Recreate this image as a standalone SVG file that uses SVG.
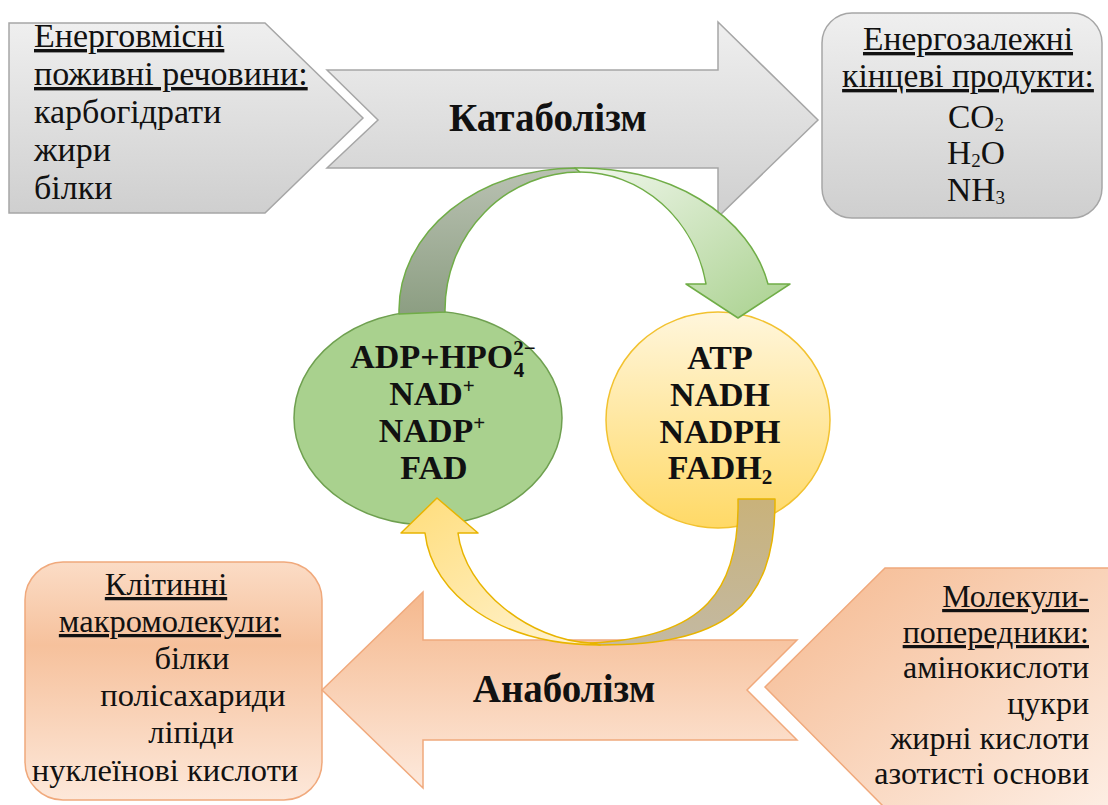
<svg xmlns="http://www.w3.org/2000/svg" width="1108" height="805" viewBox="0 0 1108 805">
<defs>
<style>
.t{font-family:"Liberation Serif","Times New Roman",serif;font-size:32px;fill:#111}
#nutrients .t{font-size:34px}
#end-products .t{font-size:33.5px}
#macromolecules .t{font-size:32.5px}
#precursors .t{font-size:32px}
.u{text-decoration:underline}
.b{font-weight:bold;font-size:34px}
.big{font-size:39px;font-weight:bold}
#catabolism .big,#anabolism .big{font-size:39px}
.grey{fill:url(#gGrey);stroke:#a6a6a6;stroke-width:1.5}
.peach{stroke:#f0a97c;stroke-width:1.5}
#end-products .sub{font-size:19px}
</style>
<linearGradient id="gGrey" x1="0" y1="0" x2="0" y2="1"><stop offset="0" stop-color="#efefef"/><stop offset="1" stop-color="#cfcfcf"/></linearGradient>
<linearGradient id="gPeach" x1="0" y1="0" x2="0" y2="1"><stop offset="0" stop-color="#f5b88d"/><stop offset="1" stop-color="#fde9dc"/></linearGradient>
<linearGradient id="gPeachBox" x1="0" y1="0" x2="0" y2="1"><stop offset="0" stop-color="#fbdcc6"/><stop offset="0.35" stop-color="#f6c19c"/><stop offset="1" stop-color="#fde8da"/></linearGradient>
<linearGradient id="gPeachR" x1="0" y1="0" x2="1" y2="1"><stop offset="0" stop-color="#f5b88e"/><stop offset="1" stop-color="#fdeee4"/></linearGradient>
<linearGradient id="gYellow" x1="0" y1="0" x2="0" y2="1"><stop offset="0" stop-color="#fff6dc"/><stop offset="1" stop-color="#ffd966"/></linearGradient>
<linearGradient id="gArcDark" x1="0" y1="0" x2="0" y2="1"><stop offset="0" stop-color="#b9c1b2"/><stop offset="1" stop-color="#8c9e82"/></linearGradient>
<linearGradient id="gArcLight" x1="0" y1="0" x2="1" y2="1"><stop offset="0" stop-color="#f1f7ed"/><stop offset="1" stop-color="#a9d18e"/></linearGradient>
<linearGradient id="gTan" x1="0" y1="0" x2="0" y2="1"><stop offset="0" stop-color="#c9b27a"/><stop offset="1" stop-color="#c3b9a2"/></linearGradient>
<linearGradient id="gYArc" x1="0" y1="0" x2="1" y2="1"><stop offset="0" stop-color="#ffdd7a"/><stop offset="1" stop-color="#fff4d6"/></linearGradient>
</defs>
<rect width="1108" height="805" fill="#ffffff"/>

<g id="nutrients">
<polygon class="grey" points="9,23 265,23 363,118 265,213 9,213"/>
<text class="t u" x="34" y="47">Енерговмісні</text>
<text class="t u" x="34" y="85">поживні речовини:</text>
<text class="t" x="34" y="123">карбогідрати</text>
<text class="t" x="34" y="161">жири</text>
<text class="t" x="34" y="199">білки</text>
</g>

<g id="catabolism">
<polygon class="grey" points="327,70 718,70 718,22 818,120 718,217 718,168 327,168 378,120"/>
<text class="t big" x="548" y="131" text-anchor="middle">Катаболізм</text>
</g>

<g id="end-products">
<rect class="grey" x="822" y="13" width="280" height="205" rx="30"/>
<text class="t u" x="968" y="50" text-anchor="middle">Енергозалежні</text>
<text class="t u" x="968" y="87" text-anchor="middle">кінцеві продукти:</text>
<text class="t" x="976" y="128" text-anchor="middle">CO<tspan class="sub" dy="3">2</tspan></text>
<text class="t" x="976" y="164" text-anchor="middle">H<tspan class="sub" dy="3">2</tspan><tspan dy="-3">O</tspan></text>
<text class="t" x="976" y="201" text-anchor="middle">NH<tspan class="sub" dy="3">3</tspan></text>
</g>

<g id="macromolecules">
<rect class="peach" fill="url(#gPeachBox)" x="25" y="562" width="297" height="238" rx="38"/>
<text class="t u" x="166" y="595" text-anchor="middle">Клітинні</text>
<text class="t u" x="170" y="632" text-anchor="middle">макромолекули:</text>
<text class="t" x="192" y="669" text-anchor="middle">білки</text>
<text class="t" x="193" y="706" text-anchor="middle">полісахариди</text>
<text class="t" x="191" y="743" text-anchor="middle">ліпіди</text>
<text class="t" x="165" y="781" text-anchor="middle">нуклеїнові кислоти</text>
</g>

<g id="anabolism">
<polygon class="peach" fill="url(#gPeach)" points="322,690 423,592 423,640 797,640 747,690 797,740 423,740 423,788"/>
<text class="t big" x="564" y="702" text-anchor="middle">Анаболізм</text>
</g>

<g id="precursors">
<polygon class="peach" fill="url(#gPeachR)" points="765,687 885,568 1112,568 1112,808 885,808"/>
<text class="t u" x="1089" y="607" text-anchor="end">Молекули-</text>
<text class="t u" x="1089" y="643" text-anchor="end">попередники:</text>
<text class="t" x="1089" y="678" text-anchor="end">амінокислоти</text>
<text class="t" x="1089" y="714" text-anchor="end">цукри</text>
<text class="t" x="1089" y="749" text-anchor="end">жирні кислоти</text>
<text class="t" x="1089" y="784" text-anchor="end">азотисті основи</text>
</g>

<g id="oxidized">
<ellipse cx="428" cy="418" rx="134" ry="107" fill="#a9d18e" stroke="#6fa050" stroke-width="1.5"/>
<text class="t b" x="443" y="368" text-anchor="middle">ADP+HPO<tspan font-size="21" dy="-13">2−</tspan><tspan font-size="21" dx="-22" dy="22">4</tspan></text>
<text class="t b" x="432" y="405" text-anchor="middle">NAD<tspan font-size="21" dy="-12">+</tspan></text>
<text class="t b" x="432" y="442" text-anchor="middle">NADP<tspan font-size="21" dy="-12">+</tspan></text>
<text class="t b" x="434" y="479" text-anchor="middle">FAD</text>
</g>

<g id="reduced">
<ellipse cx="718" cy="420" rx="112" ry="108" fill="url(#gYellow)" stroke="#f2c230" stroke-width="1.5"/>
<text class="t b" x="720" y="369" text-anchor="middle">ATP</text>
<text class="t b" x="720" y="406" text-anchor="middle">NADH</text>
<text class="t b" x="720" y="443" text-anchor="middle">NADPH</text>
<text class="t b" x="720" y="479" text-anchor="middle">FADH<tspan font-size="21" dy="5">2</tspan></text>
</g>

<g id="connectors">
<path d="M399,314 L399,310 A177,142 0 0 1 575,168 L580,172 A135,138 0 0 0 445,310 L445,312 Z" fill="url(#gArcDark)" stroke="#70ad47" stroke-width="1.5" stroke-linejoin="round"/>
<path d="M575,168 A190,145 0 0 1 768,284 L790,284 L738,318 L686,284 L706,284 A128,138 0 0 0 580,172 Z" fill="url(#gArcLight)" stroke="#70ad47" stroke-width="1.5" stroke-linejoin="round"/>
<path d="M738,499 L775,499 C776,610 720,645 600,645 L590,643 C705,638 740,590 738,499 Z" fill="url(#gTan)" stroke="#e8b400" stroke-width="1.5" stroke-linejoin="round"/>
<path d="M600,645 C500,645 432,595 425,533 L401,533 L437,498 L478,533 L458,533 C465,590 530,640 590,643 Z" fill="url(#gYArc)" stroke="#e8b400" stroke-width="1.5" stroke-linejoin="round"/>
</g>
</svg>
